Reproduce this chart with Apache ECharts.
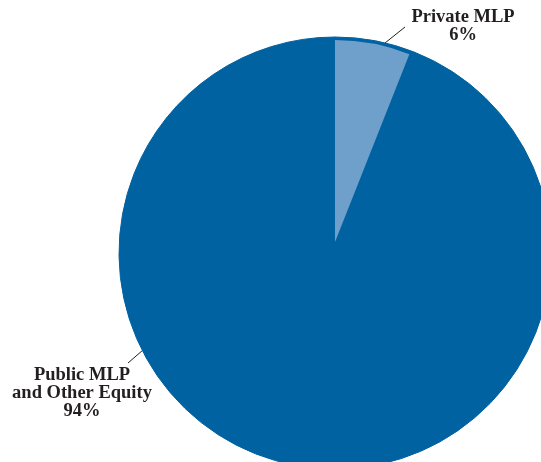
<!DOCTYPE html>
<html lang="en">
<head>
    <meta charset="UTF-8">
    <title>MLP allocation</title>
    <script src="https://cdn.jsdelivr.net/npm/echarts@6/dist/echarts.min.js"></script>
    <style>
        html, body { margin: 0; padding: 0; background: #fff; }
        #pie { width: 541px; height: 462px; }
    </style>
</head>
<body>
<div id="pie"></div>

<script>
    // data
    let names = ['Private MLP', 'Public MLP\nand Other Equity'];
    let values = [6, 94];
    let colors = ['#6F9FCB', '#0062A1'];

    // where the labels sit and how their leader lines run
    let labelSpots = [
        { x: 463, y: 26, line: [[385, 43], [405, 27]] },
        { x: 82, y: 393, line: [[143, 350], [128, 363]] }
    ];

    let chart = echarts.init(document.getElementById('pie'));

    let pieData = names.map(function (n, i) {
        return { name: n, value: values[i] };
    });

    let option = {
        animation: false,
        series: [
            {
                // the full dark disc, carrying the labels
                type: 'pie',
                center: [335, 253],
                radius: 216,
                startAngle: 90,
                clockwise: true,
                silent: true,
                itemStyle: { color: colors[1], borderColor: colors[1], borderWidth: 1 },
                data: pieData,
                label: {
                    show: true,
                    fontFamily: '"Liberation Serif", "Times New Roman", serif',
                    fontWeight: 'bold',
                    fontSize: 18.5,
                    lineHeight: 18,
                    color: '#231f20',
                    formatter: function (p) {
                        return p.name + '\n' + p.value + '%';
                    }
                },
                labelLine: {
                    show: true,
                    lineStyle: { color: '#231f20', width: 1 }
                },
                labelLayout: function (params) {
                    let s = labelSpots[params.dataIndex];
                    return {
                        x: s.x,
                        y: s.y,
                        align: 'center',
                        verticalAlign: 'middle',
                        labelLinePoints: s.line
                    };
                }
            },
            {
                // the lighter wedge, set a little inside the rim
                type: 'pie',
                center: [335, 242],
                radius: 202,
                startAngle: 90,
                clockwise: true,
                silent: true,
                label: { show: false },
                labelLine: { show: false },
                itemStyle: { borderWidth: 0 },
                data: pieData.map(function (d, i) {
                    return {
                        name: d.name,
                        value: d.value,
                        itemStyle: i === 0 ? { color: colors[0] } : { color: 'rgba(0,0,0,0)' }
                    };
                })
            }
        ]
    };

    chart.setOption(option);
</script>
</body>
</html>
